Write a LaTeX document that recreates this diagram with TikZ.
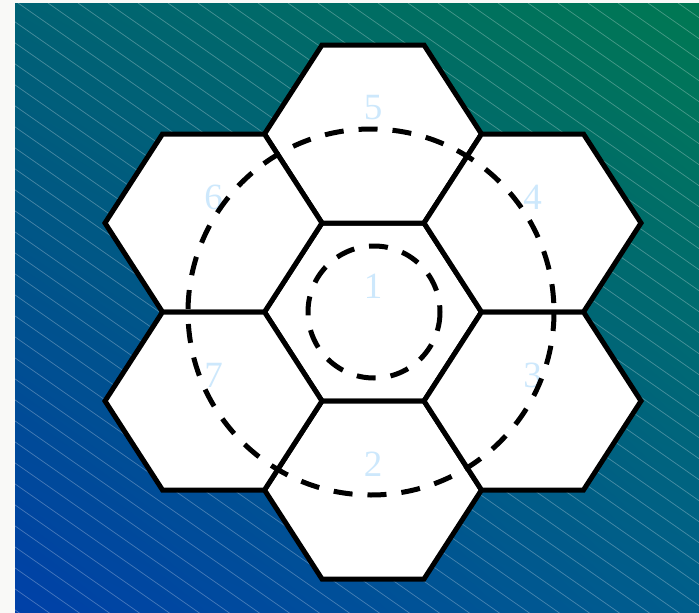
\documentclass[tikz,border=0pt]{standalone}
\usepackage{fontspec}
\setmainfont{Liberation Serif}
\usetikzlibrary{calc,shadings}
\definecolor{bgpaper}{RGB}{249,249,247}
\definecolor{gUL}{RGB}{0,98,116}
\definecolor{gUR}{RGB}{0,120,82}
\definecolor{gLL}{RGB}{0,64,168}
\definecolor{gLR}{RGB}{0,94,140}
\definecolor{labelblue}{RGB}{205,232,252}
\tikzset{
  hexcell/.style={draw=black, fill=white, line width=5pt, line join=miter},
  hexlabel/.style={text=labelblue, font=\fontsize{37}{40}\selectfont, inner sep=0pt},
  dashring/.style={draw=black, line width=5pt, dash pattern=on 19pt off 15pt},
  hatch/.style={white, opacity=0.28, line width=0.7pt}
}
\begin{document}
\begin{tikzpicture}[x=1pt, y=-1pt]
  \useasboundingbox (0,0) rectangle (699,613);
  \fill[bgpaper] (0,0) rectangle (699,613);
  \shade[upper left=gUL, upper right=gUR, lower left=gLL, lower right=gLR]
    (15,3) rectangle (699,613);
  \begin{scope}
    \clip (15,3) rectangle (699,613);
    \foreach \k in {-32,...,24} {
      \draw[hatch] ({18+30*\k},3) -- ({18+30*\k+900},{3+630});
    }
  \end{scope}
  % hexagon cells
  \foreach \nm/\cx/\cy in {c1/373/312, c5/373/134, c2/373/490, c4/532.5/223, c3/532.5/401, c6/213.5/223, c7/213.5/401} {
    \coordinate (\nm) at (\cx,\cy);
    \draw[hexcell] ($(\nm)+(-108.5,0)$) -- ($(\nm)+(-51,-89)$) -- ($(\nm)+(51,-89)$)
      -- ($(\nm)+(108.5,0)$) -- ($(\nm)+(51,89)$) -- ($(\nm)+(-51,89)$) -- cycle;
  }
  \foreach \nm/\lab in {c1/1, c5/5, c2/2, c4/4, c3/3, c6/6, c7/7} {
    \node[hexlabel] (l\nm) at ($(\nm)+(0,-26)$) {\lab};
  }
  \coordinate (ringcenter) at (371,312);
  \draw[dashring] (374,312) circle (66);
  \draw[dashring] (ringcenter) circle (183);
\end{tikzpicture}
\end{document}
